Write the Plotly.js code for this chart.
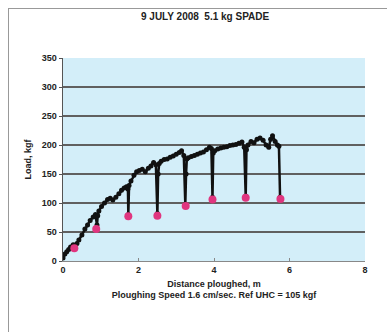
<!DOCTYPE html>
<html><head><meta charset="utf-8">
<script src="https://cdn.plot.ly/plotly-3.0.1.min.js"></script>
<style>
html,body{margin:0;padding:0;background:#fff;}
#frame{position:absolute;left:8px;top:8px;width:380px;height:330px;border-left:1px solid #999;border-top:1px solid #999;}
#chart{position:absolute;left:0;top:0;width:387px;height:332px;}
</style></head>
<body><div id="frame"></div><div id="chart"></div>
<script>
const distance = [0,0.05,0.1,0.15,0.2,0.27,0.32,0.37,0.42,0.5,0.58,0.65,0.72,0.8,0.86,0.9,0.92,0.95,1.02,1.1,1.18,1.25,1.32,1.4,1.48,1.55,1.62,1.68,1.72,1.73,1.75,1.8,1.88,1.95,2.02,2.1,2.18,2.26,2.33,2.4,2.46,2.5,2.52,2.55,2.6,2.68,2.76,2.84,2.92,3.0,3.08,3.14,3.2,3.24,3.26,3.28,3.32,3.4,3.48,3.56,3.64,3.72,3.8,3.88,3.93,3.96,3.98,4.02,4.1,4.18,4.26,4.34,4.42,4.5,4.58,4.66,4.74,4.8,4.84,4.86,4.9,4.98,5.06,5.14,5.22,5.3,5.38,5.45,5.5,5.55,5.62,5.68,5.72,5.75];
const load = [5,12,16,20,24,28,26,30,36,45,55,62,70,76,80,62,78,86,94,100,106,108,105,110,116,122,126,128,124,80,130,138,148,154,156,158,154,160,164,170,166,82,150,168,172,175,176,179,181,184,187,190,182,98,150,176,178,180,182,184,186,188,192,196,194,110,186,190,193,195,196,197,199,200,201,203,205,196,112,192,200,206,204,210,212,208,200,196,210,216,206,200,198,110];
const minDistance = [0.3,0.88,1.73,2.5,3.25,3.96,4.84,5.76];
const minLoad = [22,55,77,78,95,106,109,107];
const xTicks = [0,2,4,6,8];
const yTicks = [0,50,100,150,200,250,300,350];

const font = {family:'"Liberation Sans", Arial, sans-serif', color:'#222', size:9};
Plotly.newPlot('chart', [
  {x:distance, y:load, mode:'lines+markers', line:{color:'#111', width:2.5},
   marker:{color:'#111', size:5}, hoverinfo:'skip'},
  {x:minDistance, y:minLoad, mode:'markers', marker:{color:'#e0357f', size:8, symbol:'circle'}, hoverinfo:'skip'}
], {
  width:387, height:332,
  margin:{l:63, r:22, t:58, b:71},
  paper_bgcolor:'rgba(0,0,0,0)', plot_bgcolor:'#d3eef9',
  showlegend:false,
  font: font,
  title:{text:'<b>9 JULY 2008  5.1 kg SPADE</b>', x:0.53, xanchor:'center', y:0.95, yanchor:'middle', font:{family:font.family, size:10, color:'#222'}},
  xaxis:{range:[0,8], tickvals:xTicks, ticktext:xTicks.map(String), showgrid:false, zeroline:false,
    showline:true, linecolor:'#888', linewidth:1, ticks:'inside', ticklen:3, tickcolor:'#888',
    tickfont:{family:font.family, size:9, color:'#222', weight:'bold'},
    title:{text:'<b>Distance ploughed, m<br>Ploughing Speed 1.6 cm/sec. Ref UHC = 105 kgf</b>', standoff:6, font:{family:font.family, size:9, color:'#222'}}},
  yaxis:{range:[0,350], tickvals:yTicks, ticktext:yTicks.map(String), showgrid:true, gridcolor:'#606060', gridwidth:1.2, zeroline:false,
    showline:true, linecolor:'#555', linewidth:1.5, ticks:'outside', ticklen:3, tickcolor:'#555',
    tickfont:{family:font.family, size:9, color:'#222', weight:'bold'},
    title:{text:'<b>Load, kgf</b>', standoff:8, font:{family:font.family, size:9, color:'#222'}}}
}, {staticPlot:true, displayModeBar:false});
</script></body></html>
